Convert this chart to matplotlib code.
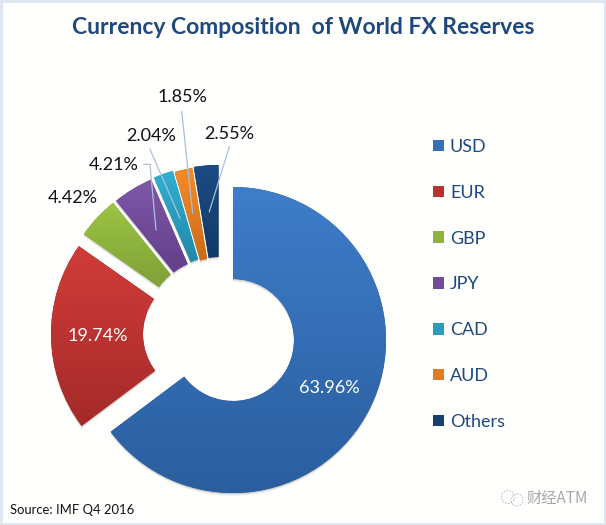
import numpy as np
import matplotlib
matplotlib.use("Agg")
import matplotlib.pyplot as plt
from matplotlib.patches import Circle, Patch, Rectangle, Wedge

# data:
currencies = ["USD", "EUR", "GBP", "JPY", "CAD", "AUD", "Others"]
shares = [63.96, 19.74, 4.42, 4.21, 2.04, 1.85, 2.55]

# colours for each slice (top and bottom of the gradient):
top_colours = ["#3f7dca", "#d13c3a", "#9cc445", "#7f58a9", "#30b0d2", "#f68c2a", "#1b4c84"]
bottom_colours = ["#2a5e9e", "#a42a29", "#7fa137", "#633f8a", "#2289a8", "#cb6b17", "#123a68"]
legend_colours = ["#3570b5", "#bb3331", "#8db23e", "#714c9a", "#299db9", "#e07b20", "#173f6f"]

# each slice is dragged out of the pie by hand (pixels, x and y):
offsets = [(0, 0), (-29, 6), (-24, 18), (-21, 20), (-18, 22), (-16, 21), (-14.5, 22)]

# label centres, in pixels from the top left corner of the picture:
label_xy = [(329, 388), (98, 336), (73, 198), (114, 165), (151, 136), (182, 97), (229, 134)]
label_colours = ["white", "white", "#111111", "#111111", "#111111", "#111111", "#111111"]

# leader lines (pixels), slices that have no line are left out:
leaders = [
    [(144, 164.3), (150, 164.3), (156, 230)],
    [(150, 149.3), (180, 218.3)],
    [(181.7, 111.7), (192.7, 213.3)],
    [(229.3, 146.7), (209.3, 211.7)],
]

W, H = 606, 525
CX, CY = 233, 340
RADIUS, HOLE = 153, 61
NAVY = "#1f497d"

plt.rcParams["font.family"] = ["Lato", "DejaVu Sans"]


def to_rgb(c):
    return np.array(matplotlib.colors.to_rgb(c))


fig = plt.figure(figsize=(W / 100, H / 100), dpi=100, facecolor="#fffffe")
ax = fig.add_axes([0, 0, 1, 1])

wedges, _ = ax.pie(shares, center=(CX, H - CY), radius=RADIUS, startangle=90, counterclock=False,
                   wedgeprops={"width": RADIUS - HOLE, "linewidth": 0})
ax.set_aspect("auto")
ax.axis("off")

# move the slices out and fill them with a top to bottom gradient:
for w, off, c1, c2 in zip(wedges, offsets, top_colours, bottom_colours):
    cx, cy = CX + off[0], H - CY + off[1]
    w.set_center((cx, cy))
    w.set_facecolor(c2)
    w.set_zorder(2)

    # soft shadow under the slice:
    for d, a in ((1, 0.12), (2, 0.08), (3, 0.04)):
        ax.add_patch(Wedge((cx, cy - d), RADIUS, w.theta1, w.theta2, width=RADIUS - HOLE,
                           facecolor="black", alpha=a, linewidth=0, zorder=1))

    t = np.linspace(0, 1, 256)[:, None, None]
    grad = (1 - t) * to_rgb(c1) + t * to_rgb(c2)
    box = w.get_path().get_extents(w.get_patch_transform())
    img = ax.imshow(grad, extent=(box.x0, box.x1, box.y0, box.y1), aspect="auto", zorder=3)
    img.set_clip_path(w)

ax.set_xlim(0, W)
ax.set_ylim(0, H)

# leader lines:
for line in leaders:
    xs = [p[0] for p in line]
    ys = [H - p[1] for p in line]
    ax.plot(xs, ys, color="#a9c0da", lw=0.9, zorder=4)

# data labels:
for v, xy, col in zip(shares, label_xy, label_colours):
    ax.text(xy[0], H - xy[1], f"{v:.2f}%", color=col, fontsize=13, ha="center", va="center", zorder=5)

ax.text(303.5, H - 27, "Currency Composition  of World FX Reserves", color=NAVY, fontsize=16.5,
        fontweight="bold", ha="center", va="center")
ax.text(10, H - 510, "Source: IMF Q4 2016", color="#111111", fontsize=9.4, ha="left", va="center")

# legend:
handles = [Patch(facecolor=c, label=n) for c, n in zip(legend_colours, currencies)]
leg = ax.legend(handles=handles, loc="upper left", bbox_to_anchor=(433 / W, 1 - 139 / H), frameon=False,
                fontsize=13, labelcolor=NAVY, handlelength=0.61, handleheight=0.61, handletextpad=0.33,
                labelspacing=1.65, borderpad=0, borderaxespad=0)

# watermark in the corner:
ax.text(526, H - 498, "财经ATM", color="#a8a8a8", fontsize=11, ha="left", va="center",
        family=["Noto Sans CJK SC", "DejaVu Sans"])
for x0, y0, r in ((508, 497, 6.5), (517, 500, 6)):
    ax.add_patch(Circle((x0, H - y0), r, fill=False, edgecolor="#b5b5b5", lw=0.7, linestyle=(0, (1.5, 1.5))))

# pale blue border round the picture:
ax.add_patch(Rectangle((1, 1), W - 2, H - 2, fill=False, edgecolor="#dce6f1", lw=2, zorder=6))

fig.savefig("out.png", dpi=100, facecolor=fig.get_facecolor())
